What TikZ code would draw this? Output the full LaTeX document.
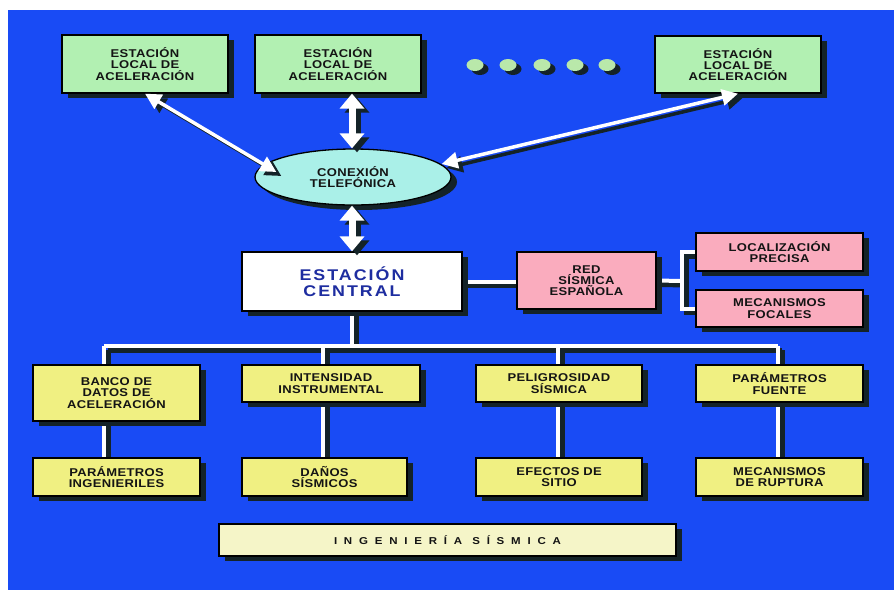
\documentclass[tikz,border=0pt]{standalone}
\usepackage{fontspec}
\setmainfont{Liberation Sans}
\newfontfamily\boxfont[FakeStretch=1.15,LetterSpace=3]{Liberation Sans Bold}
\newfontfamily\centralfont[FakeStretch=1.15,LetterSpace=13]{Liberation Sans Bold}
\newfontfamily\wideboxfont[FakeStretch=1.15,LetterSpace=68]{Liberation Sans Bold}
\usetikzlibrary{shapes.geometric,shadows,arrows.meta,calc}
\definecolor{bgblue}{RGB}{25,75,245}
\definecolor{shadowc}{RGB}{20,35,40}
\definecolor{boxgreen}{RGB}{178,240,178}
\definecolor{ellcyan}{RGB}{170,240,232}
\definecolor{boxpink}{RGB}{250,172,190}
\definecolor{boxyellow}{RGB}{240,240,130}
\definecolor{boxcream}{RGB}{245,245,200}
\definecolor{dotgreen}{RGB}{185,232,170}
\definecolor{txtdark}{RGB}{20,20,20}
\definecolor{txtblue}{RGB}{30,45,160}
\pgfdeclarelayer{back}
\pgfdeclarelayer{conn}
\pgfsetlayers{back,conn,main}
\tikzset{
  sh/.style={drop shadow={shadow xshift=6pt,shadow yshift=-5pt,opacity=1,fill=shadowc}},
  basebox/.style={draw=black,line width=1.3pt,inner sep=0pt,align=center,text=txtdark,sh,
     font=\boxfont\fontsize{11.3}{11.3}\selectfont},
  greenbox/.style={basebox,fill=boxgreen,minimum width=166pt,minimum height=58pt},
  pinkbox/.style={basebox,fill=boxpink,minimum width=167pt,minimum height=38pt},
  yellowbox/.style={basebox,fill=boxyellow,minimum width=167pt,minimum height=38pt},
  telell/.style={ellipse,draw=black,line width=1.3pt,fill=ellcyan,inner sep=0pt,sh,align=center,
     text=txtdark,minimum width=196pt,minimum height=56pt,font=\boxfont\fontsize{11.3}{11.3}\selectfont},
  dotnode/.style={ellipse,fill=dotgreen,minimum width=17pt,minimum height=12pt,inner sep=0pt,
     drop shadow={shadow xshift=5pt,shadow yshift=-4pt,opacity=1,fill=shadowc}},
  wline/.style={draw=white,line width=4pt},
  shline/.style={draw=shadowc,line width=5pt,transform canvas={shift={(4pt,-4pt)}}},
  thinarrow/.style={draw=white,line width=3.5pt,{Triangle[width=16pt,length=16pt]}-{Triangle[width=16pt,length=16pt]}},
  thickarrow/.style={draw=white,line width=7pt,{Triangle[width=24pt,length=15pt]}-{Triangle[width=24pt,length=15pt]}},
  sharrow/.style={draw=shadowc,transform canvas={shift={(5pt,-4pt)}}}
}
\begin{document}
\begin{tikzpicture}[x=1pt,y=-1pt]
\useasboundingbox (0,0) rectangle (894,590);
\begin{pgfonlayer}{back}
\fill[white] (0,0) rectangle (894,590);
\fill[bgblue] (8,10) rectangle (894,590);
\end{pgfonlayer}
% top stations
\node[greenbox] (s1) at (145,64) {ESTACIÓN\\LOCAL DE\\ACELERACIÓN};
\node[greenbox] (s2) at (338,64) {ESTACIÓN\\LOCAL DE\\ACELERACIÓN};
\node[greenbox,minimum height=57pt] (s3) at (738,64.5) {ESTACIÓN\\LOCAL DE\\ACELERACIÓN};
\node[dotnode] (d1) at (475,65) {};
\node[dotnode] (d2) at (508,65) {};
\node[dotnode] (d3) at (542,65) {};
\node[dotnode] (d4) at (575,65) {};
\node[dotnode] (d5) at (607,65) {};
% telephone
\node[telell] (tel) at (353,177) {CONEXIÓN\\TELEFÓNICA};
% central
\node[basebox,fill=white,minimum width=220pt,minimum height=59pt,text=txtblue,
      font=\centralfont\fontsize{15.5}{16.5}\selectfont] (central) at (352,281.5) {ESTACIÓN\\CENTRAL};
\node[basebox,fill=boxpink,minimum width=139pt,minimum height=57pt] (red) at (586.5,280.5) {RED\\SÍSMICA\\ESPAÑOLA};
\node[pinkbox] (loc) at (779.5,252) {LOCALIZACIÓN\\PRECISA};
\node[pinkbox,minimum height=37pt] (foc) at (779.5,308.5) {MECANISMOS\\FOCALES};
% row 1
\node[yellowbox,minimum height=56pt] (banco) at (116.5,393) {BANCO DE\\DATOS DE\\ACELERACIÓN};
\node[yellowbox,minimum width=178pt,minimum height=37pt] (inten) at (331,383.5) {INTENSIDAD\\INSTRUMENTAL};
\node[yellowbox,minimum width=166pt,minimum height=37pt] (pelig) at (559,383.5) {PELIGROSIDAD\\SÍSMICA};
\node[yellowbox,minimum height=37pt] (pfuente) at (779.5,383.5) {PARÁMETROS\\FUENTE};
% row 2
\node[yellowbox] (ping) at (116.5,477) {PARÁMETROS\\INGENIERILES};
\node[yellowbox,minimum width=165pt] (danos) at (324.5,477) {DAÑOS\\SÍSMICOS};
\node[yellowbox,minimum width=166pt] (efectos) at (559,477) {EFECTOS DE\\SITIO};
\node[yellowbox] (mrup) at (779.5,477) {MECANISMOS\\DE RUPTURA};
% bottom bar
\node[basebox,fill=boxcream,minimum width=457pt,minimum height=32pt,
      font=\wideboxfont\fontsize{10}{11}\selectfont] (ing) at (447.5,540) {INGENIERÍA SÍSMICA};
% bus coordinates
\coordinate (b1) at (104,346);
\coordinate (b2) at (323,346);
\coordinate (b3) at (558,346);
\coordinate (b4) at (778,346);
\coordinate (br) at (682,281);
% connectors
\begin{pgfonlayer}{conn}
\foreach \st in {shline,wline}{
  \draw[\st] (central.south) -- (central.south |- b1);
  \draw[\st] (b1) -- (b4);
  \draw[\st] (b1) -- (b1 |- banco.north);
  \draw[\st] (b2) -- (b2 |- inten.north);
  \draw[\st] (b3) -- (b3 |- pelig.north);
  \draw[\st] (b4) -- (b4 |- pfuente.north);
  \draw[\st] (banco.south -| b1) -- (ping.north -| b1);
  \draw[\st] (inten.south -| b2) -- (danos.north -| b2);
  \draw[\st] (pelig.south -| b3) -- (efectos.north -| b3);
  \draw[\st] (pfuente.south -| b4) -- (mrup.north -| b4);
  \draw[\st] (central.east) -- (central.east -| red.west);
  \draw[\st] (red.east) -- (br);
  \draw[\st] (loc.west) -| (br) |- (foc.west);
}
\end{pgfonlayer}
% arrows
\draw[thinarrow,sharrow] (s1.south) -- ($(tel.west)+(22,-5)$);
\draw[thinarrow] (s1.south) -- ($(tel.west)+(22,-5)$);
\draw[thinarrow,sharrow] (s3.south) -- ($(tel.east)+(-10,-13)$);
\draw[thinarrow] (s3.south) -- ($(tel.east)+(-10,-13)$);
\draw[thickarrow,sharrow] (tel.north -| central.north) -- (s2.south -| central.north);
\draw[thickarrow] (tel.north -| central.north) -- (s2.south -| central.north);
\draw[thickarrow,sharrow] (tel.south -| central.north) -- (central.north);
\draw[thickarrow] (tel.south -| central.north) -- (central.north);
\end{tikzpicture}
\end{document}
